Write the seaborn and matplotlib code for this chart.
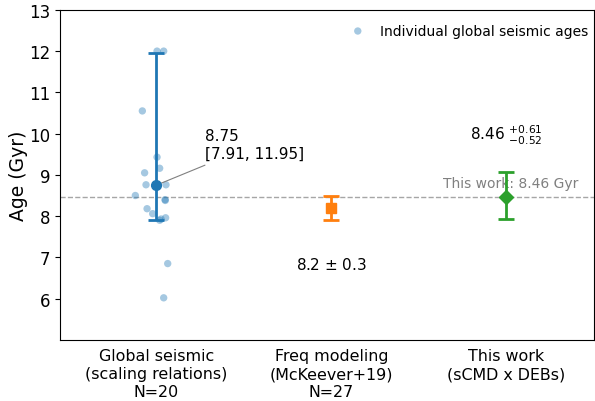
import numpy as np
import pandas as pd
import matplotlib
matplotlib.use("Agg")
import matplotlib.pyplot as plt
import seaborn as sns

# ---- data ----
categories = ["Global seismic\n(scaling relations)\nN=20",
              "Freq modeling\n(McKeever+19)\nN=27",
              "This work\n(sCMD x DEBs)"]
seismic_ages = [12.0, 12.0, 10.55, 9.43, 9.16, 9.05, 8.76, 8.76, 8.50, 8.38,
                8.18, 8.06, 7.96, 7.90, 7.93, 6.85, 6.02, 8.75, 8.72, 8.40]
seismic_jitter = [0.004, 0.042, -0.08, 0.004, 0.019, -0.067, -0.059, 0.055, -0.12, 0.051,
                  -0.053, -0.021, 0.053, 0.019, 0.027, 0.065, 0.042, 0.0, 0.01, 0.05]
seismic_median = 8.75
seismic_lo, seismic_hi = 7.91, 11.95
freq_age, freq_err = 8.2, 0.3
this_age, this_plus, this_minus = 8.46, 0.61, 0.52

sns.set_style("ticks")
plt.rcParams['font.family'] = ['DejaVu Sans']
plt.rcParams.update({"text.color": "black", "axes.labelcolor": "black",
                     "xtick.color": "black", "ytick.color": "black",
                     "axes.edgecolor": "black"})

fig, ax = plt.subplots(figsize=(5.95, 4.02), dpi=100)
fig.subplots_adjust(left=0.101, right=0.998, top=0.973, bottom=0.152)

blue, orange, green = "#1f77b4", "#ff7f0e", "#2ca02c"

df = pd.DataFrame({"x": np.array(seismic_jitter) + 0, "age": seismic_ages})
sns.scatterplot(data=df, x="x", y="age", ax=ax, color=blue, alpha=0.4, s=28,
                edgecolor="none", label="Individual global seismic ages", zorder=2)

ax.axhline(this_age, color="gray", ls="--", lw=1, alpha=0.7, zorder=1)

ax.errorbar([0], [seismic_median],
            yerr=[[seismic_median - seismic_lo], [seismic_hi - seismic_median]],
            fmt="o", color=blue, ms=7, capsize=6, lw=2, capthick=2, zorder=4)
ax.errorbar([1], [freq_age], yerr=[[freq_err], [freq_err]], fmt="s", color=orange,
            ms=7, capsize=6, lw=2, capthick=2, zorder=4)
ax.errorbar([2], [this_age], yerr=[[this_minus], [this_plus]], fmt="D", color=green,
            ms=7, capsize=6, lw=2, capthick=2, zorder=4)

ax.annotate(f"{seismic_median:.2f}\n[{seismic_lo:.2f}, {seismic_hi:.2f}]",
            xy=(0, seismic_median), xytext=(0.28, 9.34), ha="left", va="bottom",
            fontsize=11, arrowprops=dict(arrowstyle="-", color="gray", lw=0.8))
ax.text(1, 6.84, f"{freq_age} $\\pm$ {freq_err}", ha="center", va="center", fontsize=11)
ax.text(2, 9.98, f"{this_age:.2f} $^{{+{this_plus:.2f}}}_{{-{this_minus:.2f}}}$",
        ha="center", va="center", fontsize=11)
ax.text(2.026, 8.81, f"This work: {this_age:.2f} Gyr", ha="center", va="center",
        fontsize=10, color="gray")

ax.set_xticks([0, 1, 2])
ax.set_xticklabels(categories, fontsize=11.4, linespacing=1.25)
ax.tick_params(axis="x", length=0, pad=6)
ax.tick_params(axis="y", labelsize=12)
ax.set_xlim(-0.55, 2.5)
ax.set_ylim(5, 13)
ax.set_yticks(range(6, 14))
ax.set_xlabel("")
ax.set_ylabel("Age (Gyr)", fontsize=13.5)
ax.yaxis.set_label_coords(-0.06, 0.5)
ax.legend(loc="upper right", bbox_to_anchor=(1.0, 0.975), frameon=False, fontsize=10,
          borderaxespad=0.0, borderpad=0.4, handletextpad=0.6)

fig.savefig("out.png", dpi=100)
